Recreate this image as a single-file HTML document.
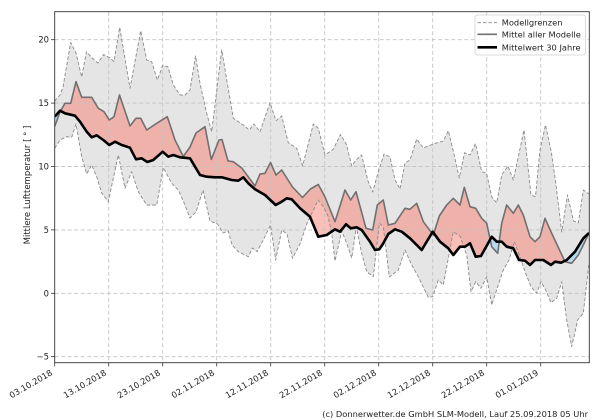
<!DOCTYPE html>
<html><head><meta charset="utf-8"><style>
html,body{margin:0;padding:0;background:#fff;}
svg{display:block;}
text{font-family:"DejaVu Sans","Liberation Sans",sans-serif;fill:#222;}
</style></head><body>
<svg width="600" height="420" viewBox="0 0 600 420" xmlns="http://www.w3.org/2000/svg">
<defs>
<clipPath id="axclip"><rect x="54.7" y="11.7" width="534.6" height="351"/></clipPath>
<clipPath id="aboveBlack"><polygon points="54.7,116.7 60,110.7 65,113.3 75,115.7 80,121.7 86.7,131.7 91.7,137.3 96.7,135.3 103.3,140 109.3,145 115,141.7 121.7,145 130,147.7 136,159.3 141.7,158.3 147.3,162 153.3,160 162.7,151.7 168.3,156.7 173.3,155 180,157.3 190,158.3 195,166.7 200,175 206.7,176.7 215,177.3 221.7,177.3 231.7,180 238.3,180.7 243.3,177.3 248.3,183.3 255,189.3 265,195 275.7,205 281.7,201.7 286.7,198.3 291.7,199.3 300,208.3 310,216.7 318.3,236.7 326.7,235 335,229.3 340,231.7 346,224.3 350.7,228.3 356.7,227.3 361.7,230 370,241.7 375,250 379.3,249.3 383.3,243.3 388.3,234 395,229.3 401.7,231.7 410,238.3 421.7,250 432.7,231.7 440,241.7 448.3,248.3 453.3,255 460,246.7 465,246.7 470,243.3 475.7,256.7 481,256 491.7,236.7 496.7,241.7 501.7,241.7 506.7,246.7 513.3,248.3 519,260 525,260.7 530,265 535,260 543.3,260 551,265 555,261.7 561,262.7 566.7,260 575,251.7 583.3,238.3 589,233 589,5 54.7,5"/></clipPath>
<clipPath id="aboveMean"><polygon points="54.7,126.5 60,112 65,103.3 70.7,103.3 76,81.7 81.7,97.3 91.7,97.3 98.3,108.3 104,111.7 109.3,120 114,116.7 119.5,95 130,126 136,118.3 140.7,118.3 146.7,130 156.7,123.3 167.3,116.7 175,140 183.3,156.5 190,147 196,133 205,126.7 211.3,159.5 219,140 222,139.5 228,161 233.3,161.7 242,168.3 255,186 260,174 265,173.3 270.5,162.5 276,175 281.7,170 292.5,187 302.5,197.5 310.5,189 318.3,184.5 325,197 335,221.7 345,190 350.7,200 356,191.7 366,228.3 372.7,230 377.3,205 383.3,200 388.3,225 395,223.3 405,208.3 410,209.3 416.7,203.3 423.3,221.7 433.3,235 439.3,216 446.7,205 453.3,198.3 460,205 464.3,187.3 470,206.7 475.7,208.3 481.7,218.3 486.7,223.3 491.7,246.7 497.7,253.3 501.7,223.3 506.7,205 513.3,213.3 518.3,205 523.3,215 530,236.7 535,241.7 540,236.7 545,218.3 551.7,233.3 565,261.7 571.7,263.3 578.3,255 583.3,245 589,233 589,5 54.7,5"/></clipPath>
</defs>

<g clip-path="url(#axclip)">
<!-- model range fill -->
<polygon fill="#e5e5e5" points="54.7,101 60,95 63,87 70.7,42.5 76,53 81.7,77 86.5,51.7 92,58 98,63 103.5,54.5 109.3,57.5 114,61.5 119.7,27.3 130,88.3 140.7,30.7 146.7,60 151.7,61.7 157.3,80 162.7,65.5 167.8,66.7 173.3,85 180,95 185,95 190,90 195.5,56 200,83.3 206.7,113.3 211.7,131.7 221.7,50 233.3,118.3 243.3,125 249.3,130 254,124 260,131.7 270,102.7 276,120.7 281.7,116 288.3,142.7 296.7,148.3 302.7,165.7 313.3,124 318.3,128.3 325,155 333.3,149.3 340.5,134.5 346.5,144.5 351.7,166 356,160 361.7,155 368,181 372.7,192 378.3,171.7 384,154 390,157 395,180 400,189 405,163 410,160 416.7,139 423.3,148 433.3,144 443.3,141 448.3,130.7 453.3,151 459.3,178 464.5,152.7 470,155 475.5,143.5 481.7,171.7 486.5,173 491.7,196.7 496.7,203 501.7,175 508,166 513.3,180 518.3,156.7 524,130 531,195 535.5,196.7 540,150 545.5,125 551.5,153 556,185 561.7,232 567.5,195 573.5,221 578.3,223 583.3,190 589,194 589,263 583.3,313.3 577.7,320 571.7,346.7 566.7,320 561.7,281.7 556.7,298.3 551,302.7 545.7,290 541,281.7 536.7,293.3 531,286.7 525,271.7 520,256.7 514.3,241.7 509,260 503.3,270 497.7,286.7 491.7,305 486.7,276.7 481,288.3 475.7,281.7 471,291.7 466.7,255 460,236 453.3,231.7 443.3,285 438.3,280 432.7,296.7 428.3,297.3 418.3,276.7 411.7,265 405,250 398.3,270 389.3,277 383.3,226.7 379.3,223.3 373.3,276.7 366.7,271.7 361.7,253.3 356.3,227 351.7,258 346.7,243.3 341.7,231 335,261 331.7,233.3 328,216 323,206 318,200 313.5,210 307.5,222 300,244 292.5,258.3 287,234 281.7,230 275.7,260 270.5,225 263.3,240 257,251.7 252.5,248 248.3,256.7 238.3,251.7 232,245 228.3,231 223,233 217.5,224 210,221 203,190 196,212 190,218 183.3,201 178.3,190 171.7,183.3 163.3,167.5 156.7,205 146.7,205 138.3,191.7 131.7,171.7 125,188.3 118.3,155 108.3,201.7 101.7,193 96.7,176.7 91.7,165 86.7,174 81.7,156.7 76,124 71.7,137.3 66.7,136.7 60,140 54.7,148.3"/>

<!-- pink: mean above 30yr -->
<polygon clip-path="url(#aboveBlack)" fill="rgb(250,128,114)" fill-opacity="0.5" points="54.7,126.5 60,112 65,103.3 70.7,103.3 76,81.7 81.7,97.3 91.7,97.3 98.3,108.3 104,111.7 109.3,120 114,116.7 119.5,95 130,126 136,118.3 140.7,118.3 146.7,130 156.7,123.3 167.3,116.7 175,140 183.3,156.5 190,147 196,133 205,126.7 211.3,159.5 219,140 222,139.5 228,161 233.3,161.7 242,168.3 255,186 260,174 265,173.3 270.5,162.5 276,175 281.7,170 292.5,187 302.5,197.5 310.5,189 318.3,184.5 325,197 335,221.7 345,190 350.7,200 356,191.7 366,228.3 372.7,230 377.3,205 383.3,200 388.3,225 395,223.3 405,208.3 410,209.3 416.7,203.3 423.3,221.7 433.3,235 439.3,216 446.7,205 453.3,198.3 460,205 464.3,187.3 470,206.7 475.7,208.3 481.7,218.3 486.7,223.3 491.7,246.7 497.7,253.3 501.7,223.3 506.7,205 513.3,213.3 518.3,205 523.3,215 530,236.7 535,241.7 540,236.7 545,218.3 551.7,233.3 565,261.7 571.7,263.3 578.3,255 583.3,245 589,233 589,370 54.7,370"/>
<!-- blue: mean below 30yr -->
<polygon clip-path="url(#aboveMean)" fill="rgb(135,206,250)" fill-opacity="0.5" points="54.7,116.7 60,110.7 65,113.3 75,115.7 80,121.7 86.7,131.7 91.7,137.3 96.7,135.3 103.3,140 109.3,145 115,141.7 121.7,145 130,147.7 136,159.3 141.7,158.3 147.3,162 153.3,160 162.7,151.7 168.3,156.7 173.3,155 180,157.3 190,158.3 195,166.7 200,175 206.7,176.7 215,177.3 221.7,177.3 231.7,180 238.3,180.7 243.3,177.3 248.3,183.3 255,189.3 265,195 275.7,205 281.7,201.7 286.7,198.3 291.7,199.3 300,208.3 310,216.7 318.3,236.7 326.7,235 335,229.3 340,231.7 346,224.3 350.7,228.3 356.7,227.3 361.7,230 370,241.7 375,250 379.3,249.3 383.3,243.3 388.3,234 395,229.3 401.7,231.7 410,238.3 421.7,250 432.7,231.7 440,241.7 448.3,248.3 453.3,255 460,246.7 465,246.7 470,243.3 475.7,256.7 481,256 491.7,236.7 496.7,241.7 501.7,241.7 506.7,246.7 513.3,248.3 519,260 525,260.7 530,265 535,260 543.3,260 551,265 555,261.7 561,262.7 566.7,260 575,251.7 583.3,238.3 589,233 589,370 54.7,370"/>

<!-- grid -->
<g stroke="#c4c4c4" stroke-width="0.9" stroke-dasharray="4,2.5" fill="none">
<line x1="54.7" y1="39.7" x2="589.3" y2="39.7"/>
<line x1="54.7" y1="103.1" x2="589.3" y2="103.1"/>
<line x1="54.7" y1="166.5" x2="589.3" y2="166.5"/>
<line x1="54.7" y1="229.9" x2="589.3" y2="229.9"/>
<line x1="54.7" y1="293.3" x2="589.3" y2="293.3"/>
<line x1="54.7" y1="356.7" x2="589.3" y2="356.7"/>
<line x1="108.7" y1="11.7" x2="108.7" y2="362.7"/>
<line x1="162.7" y1="11.7" x2="162.7" y2="362.7"/>
<line x1="216.7" y1="11.7" x2="216.7" y2="362.7"/>
<line x1="270.7" y1="11.7" x2="270.7" y2="362.7"/>
<line x1="324.7" y1="11.7" x2="324.7" y2="362.7"/>
<line x1="378.7" y1="11.7" x2="378.7" y2="362.7"/>
<line x1="432.7" y1="11.7" x2="432.7" y2="362.7"/>
<line x1="486.7" y1="11.7" x2="486.7" y2="362.7"/>
<line x1="540.7" y1="11.7" x2="540.7" y2="362.7"/>
</g>

<!-- model bounds -->
<g stroke="#8a8a8a" stroke-width="0.9" stroke-dasharray="3.5,2" fill="none" stroke-linejoin="round">
<polyline points="54.7,101 60,95 63,87 70.7,42.5 76,53 81.7,77 86.5,51.7 92,58 98,63 103.5,54.5 109.3,57.5 114,61.5 119.7,27.3 130,88.3 140.7,30.7 146.7,60 151.7,61.7 157.3,80 162.7,65.5 167.8,66.7 173.3,85 180,95 185,95 190,90 195.5,56 200,83.3 206.7,113.3 211.7,131.7 221.7,50 233.3,118.3 243.3,125 249.3,130 254,124 260,131.7 270,102.7 276,120.7 281.7,116 288.3,142.7 296.7,148.3 302.7,165.7 313.3,124 318.3,128.3 325,155 333.3,149.3 340.5,134.5 346.5,144.5 351.7,166 356,160 361.7,155 368,181 372.7,192 378.3,171.7 384,154 390,157 395,180 400,189 405,163 410,160 416.7,139 423.3,148 433.3,144 443.3,141 448.3,130.7 453.3,151 459.3,178 464.5,152.7 470,155 475.5,143.5 481.7,171.7 486.5,173 491.7,196.7 496.7,203 501.7,175 508,166 513.3,180 518.3,156.7 524,130 531,195 535.5,196.7 540,150 545.5,125 551.5,153 556,185 561.7,232 567.5,195 573.5,221 578.3,223 583.3,190 589,194"/>
<polyline points="54.7,148.3 60,140 66.7,136.7 71.7,137.3 76,124 81.7,156.7 86.7,174 91.7,165 96.7,176.7 101.7,193 108.3,201.7 118.3,155 125,188.3 131.7,171.7 138.3,191.7 146.7,205 156.7,205 163.3,167.5 171.7,183.3 178.3,190 183.3,201 190,218 196,212 203,190 210,221 217.5,224 223,233 228.3,231 232,245 238.3,251.7 248.3,256.7 252.5,248 257,251.7 263.3,240 270.5,225 275.7,260 281.7,230 287,234 292.5,258.3 300,244 307.5,222 313.5,210 318,200 323,206 328,216 331.7,233.3 335,261 341.7,231 346.7,243.3 351.7,258 356.3,227 361.7,253.3 366.7,271.7 373.3,276.7 379.3,223.3 383.3,226.7 389.3,277 398.3,270 405,250 411.7,265 418.3,276.7 428.3,297.3 432.7,296.7 438.3,280 443.3,285 453.3,231.7 460,236 466.7,255 471,291.7 475.7,281.7 481,288.3 486.7,276.7 491.7,305 497.7,286.7 503.3,270 509,260 514.3,241.7 520,256.7 525,271.7 531,286.7 536.7,293.3 541,281.7 545.7,290 551,302.7 556.7,298.3 561.7,281.7 566.7,320 571.7,346.7 577.7,320 583.3,313.3 589,263"/>
</g>

<!-- model mean -->
<polyline fill="none" stroke="#707070" stroke-width="1.6" stroke-linejoin="round" points="54.7,126.5 60,112 65,103.3 70.7,103.3 76,81.7 81.7,97.3 91.7,97.3 98.3,108.3 104,111.7 109.3,120 114,116.7 119.5,95 130,126 136,118.3 140.7,118.3 146.7,130 156.7,123.3 167.3,116.7 175,140 183.3,156.5 190,147 196,133 205,126.7 211.3,159.5 219,140 222,139.5 228,161 233.3,161.7 242,168.3 255,186 260,174 265,173.3 270.5,162.5 276,175 281.7,170 292.5,187 302.5,197.5 310.5,189 318.3,184.5 325,197 335,221.7 345,190 350.7,200 356,191.7 366,228.3 372.7,230 377.3,205 383.3,200 388.3,225 395,223.3 405,208.3 410,209.3 416.7,203.3 423.3,221.7 433.3,235 439.3,216 446.7,205 453.3,198.3 460,205 464.3,187.3 470,206.7 475.7,208.3 481.7,218.3 486.7,223.3 491.7,246.7 497.7,253.3 501.7,223.3 506.7,205 513.3,213.3 518.3,205 523.3,215 530,236.7 535,241.7 540,236.7 545,218.3 551.7,233.3 565,261.7 571.7,263.3 578.3,255 583.3,245 589,233"/>

<!-- 30 yr mean -->
<polyline fill="none" stroke="#000" stroke-width="2.6" stroke-linejoin="round" points="54.7,116.7 60,110.7 65,113.3 75,115.7 80,121.7 86.7,131.7 91.7,137.3 96.7,135.3 103.3,140 109.3,145 115,141.7 121.7,145 130,147.7 136,159.3 141.7,158.3 147.3,162 153.3,160 162.7,151.7 168.3,156.7 173.3,155 180,157.3 190,158.3 195,166.7 200,175 206.7,176.7 215,177.3 221.7,177.3 231.7,180 238.3,180.7 243.3,177.3 248.3,183.3 255,189.3 265,195 275.7,205 281.7,201.7 286.7,198.3 291.7,199.3 300,208.3 310,216.7 318.3,236.7 326.7,235 335,229.3 340,231.7 346,224.3 350.7,228.3 356.7,227.3 361.7,230 370,241.7 375,250 379.3,249.3 383.3,243.3 388.3,234 395,229.3 401.7,231.7 410,238.3 421.7,250 432.7,231.7 440,241.7 448.3,248.3 453.3,255 460,246.7 465,246.7 470,243.3 475.7,256.7 481,256 491.7,236.7 496.7,241.7 501.7,241.7 506.7,246.7 513.3,248.3 519,260 525,260.7 530,265 535,260 543.3,260 551,265 555,261.7 561,262.7 566.7,260 575,251.7 583.3,238.3 589,233"/>
</g>

<!-- axes frame -->
<rect x="54.7" y="11.7" width="534.6" height="351" fill="none" stroke="#333" stroke-width="0.9"/>

<!-- y ticks -->
<g stroke="#333" stroke-width="0.8">
<line x1="51" y1="39.7" x2="54.7" y2="39.7"/>
<line x1="51" y1="103.1" x2="54.7" y2="103.1"/>
<line x1="51" y1="166.5" x2="54.7" y2="166.5"/>
<line x1="51" y1="229.9" x2="54.7" y2="229.9"/>
<line x1="51" y1="293.3" x2="54.7" y2="293.3"/>
<line x1="51" y1="356.7" x2="54.7" y2="356.7"/>
<line x1="54.7" y1="362.7" x2="54.7" y2="366.4"/>
<line x1="108.7" y1="362.7" x2="108.7" y2="366.4"/>
<line x1="162.7" y1="362.7" x2="162.7" y2="366.4"/>
<line x1="216.7" y1="362.7" x2="216.7" y2="366.4"/>
<line x1="270.7" y1="362.7" x2="270.7" y2="366.4"/>
<line x1="324.7" y1="362.7" x2="324.7" y2="366.4"/>
<line x1="378.7" y1="362.7" x2="378.7" y2="366.4"/>
<line x1="432.7" y1="362.7" x2="432.7" y2="366.4"/>
<line x1="486.7" y1="362.7" x2="486.7" y2="366.4"/>
<line x1="540.7" y1="362.7" x2="540.7" y2="366.4"/>
</g>
<g font-size="8.4" text-anchor="end">
<text x="49" y="42.7">20</text>
<text x="49" y="106.1">15</text>
<text x="49" y="169.5">10</text>
<text x="49" y="232.9">5</text>
<text x="49" y="296.3">0</text>
<text x="49" y="359.7">−5</text>
</g>
<g font-size="8.4" text-anchor="end">
<text transform="translate(53,374.5) rotate(-30)">03.10.2018</text>
<text transform="translate(107,374.5) rotate(-30)">13.10.2018</text>
<text transform="translate(161,374.5) rotate(-30)">23.10.2018</text>
<text transform="translate(215,374.5) rotate(-30)">02.11.2018</text>
<text transform="translate(269,374.5) rotate(-30)">12.11.2018</text>
<text transform="translate(323,374.5) rotate(-30)">22.11.2018</text>
<text transform="translate(377,374.5) rotate(-30)">02.12.2018</text>
<text transform="translate(431,374.5) rotate(-30)">12.12.2018</text>
<text transform="translate(485,374.5) rotate(-30)">22.12.2018</text>
<text transform="translate(539,374.5) rotate(-30)">01.01.2019</text>
</g>
<text font-size="8.5" text-anchor="middle" transform="translate(30,185) rotate(-90)">Mittlere Lufttemperatur [ ° ]</text>

<!-- legend -->
<rect x="475" y="15" width="110.5" height="40" rx="2.5" fill="#fff" fill-opacity="0.85" stroke="#cfcfcf" stroke-width="0.8"/>
<line x1="477.5" y1="22.7" x2="497" y2="22.7" stroke="#8a8a8a" stroke-width="0.9" stroke-dasharray="3.5,2"/>
<line x1="477.5" y1="34.3" x2="497" y2="34.3" stroke="#707070" stroke-width="1.6"/>
<line x1="477.5" y1="47.3" x2="497" y2="47.3" stroke="#000" stroke-width="2.6"/>
<g font-size="8.3">
<text x="501.7" y="25.7">Modellgrenzen</text>
<text x="501.7" y="37.3">Mittel aller Modelle</text>
<text x="501.7" y="50.3">Mittelwert 30 Jahre</text>
</g>

<text x="588" y="417" font-size="8.3" text-anchor="end">(c) Donnerwetter.de GmbH SLM-Modell, Lauf 25.09.2018 05 Uhr</text>
</svg>
</body></html>
